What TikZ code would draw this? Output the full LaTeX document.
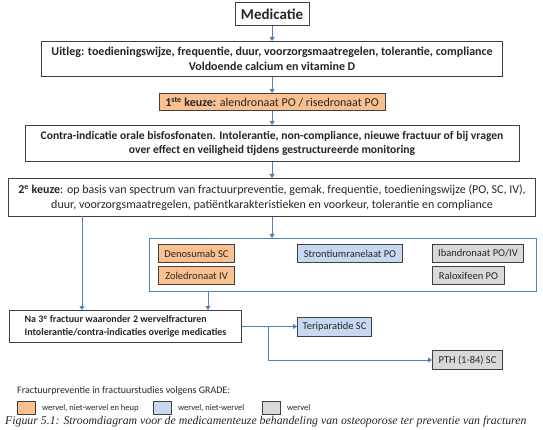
\documentclass[tikz,border=0pt]{standalone}
\usepackage{fontspec}
\setmainfont{Carlito}
\newfontfamily\capfont{Liberation Serif}
\usetikzlibrary{arrows.meta,calc}
\definecolor{arrblue}{HTML}{4F81BD}
\definecolor{boxline}{HTML}{404040}
\definecolor{orfill}{HTML}{FAC090}
\definecolor{blfill}{HTML}{C6D9F1}
\definecolor{grfill}{HTML}{D9D9D9}
\definecolor{txt}{HTML}{262626}
\tikzset{
  flowbox/.style={draw=boxline, line width=1.1pt, anchor=north west, inner sep=1pt, align=center, text=txt, font=\fontsize{12}{15}\selectfont\bfseries},
  drugbox/.style={draw=boxline, line width=1pt, anchor=north west, inner sep=1pt, align=center, text=txt, font=\fontsize{10.5}{12}\selectfont},
  arr/.style={draw=arrblue, line width=0.9pt, -{Triangle[length=4pt,width=5pt]}},
  legbox/.style={draw=boxline, line width=0.9pt, anchor=north west, minimum width=18pt, minimum height=13pt, inner sep=0pt},
  legtext/.style={anchor=west, inner sep=0pt, text=txt, font=\fontsize{8.5}{10}\selectfont},
}
\begin{document}
\begin{tikzpicture}[x=1pt,y=-1pt]
\useasboundingbox[fill=white] (0,0) rectangle (543,430);
% main chain
\node[flowbox, minimum width=74pt, minimum height=23pt, font=\fontsize{15}{17}\selectfont\bfseries] (med) at (234.5,2) {Medicatie};
\node[flowbox, minimum width=461pt, minimum height=35pt] (uit) at (41,41) {Uitleg: toedieningswijze, frequentie, duur, voorzorgsmaatregelen, tolerantie, compliance\\Voldoende calcium en vitamine D};
\node[flowbox, fill=orfill, minimum width=226pt, minimum height=17pt, font=\fontsize{12}{15}\selectfont] (k1) at (158.5,93) {\textbf{1\textsuperscript{ste} keuze:} alendronaat PO / risedronaat PO};
\node[flowbox, minimum width=494pt, minimum height=36pt, font=\fontsize{11.6}{14.5}\selectfont\bfseries] (ci) at (24.5,125) {Contra-indicatie orale bisfosfonaten. Intolerantie, non-compliance, nieuwe fractuur of bij vragen\\over effect en veiligheid tijdens gestructureerde monitoring};
\node[flowbox, minimum width=527pt, minimum height=38pt, font=\fontsize{12}{15}\selectfont] (k2) at (8,178) {\textbf{2\textsuperscript{e} keuze}: op basis van spectrum van fractuurpreventie, gemak, frequentie, toedieningswijze (PO, SC, IV),\\duur, voorzorgsmaatregelen, patiëntkarakteristieken en voorkeur, tolerantie en compliance};
% group
\node[draw=arrblue, line width=1.1pt, anchor=north west, minimum width=387pt, minimum height=53pt, inner sep=0pt] (grp) at (149,238) {};
\node[drugbox, fill=orfill, minimum width=76pt, minimum height=18pt] (deno) at (158,244) {Denosumab SC};
\node[drugbox, fill=orfill, minimum width=76pt, minimum height=18pt] (zole) at (158,266) {Zoledronaat IV};
\node[drugbox, fill=blfill, minimum width=105pt, minimum height=18pt] (stro) at (297,244) {Strontiumranelaat PO};
\node[drugbox, fill=grfill, minimum width=91pt, minimum height=18pt] (iban) at (432,244) {Ibandronaat PO/IV};
\node[drugbox, fill=grfill, minimum width=72pt, minimum height=18pt] (ralo) at (432,266) {Raloxifeen PO};
% third
\node[flowbox, align=left, minimum width=232pt, minimum height=32pt, font=\fontsize{10}{13}\selectfont\bfseries, inner xsep=4pt] (na3) at (9,310) {Na 3\textsuperscript{e} fractuur waaronder 2 wervelfracturen\\Intolerantie/contra-indicaties overige medicaties};
\node[drugbox, fill=blfill, minimum width=74pt, minimum height=19pt] (teri) at (297,316.5) {Teriparatide SC};
\node[drugbox, fill=grfill, minimum width=70pt, minimum height=19pt] (pth) at (432,350) {PTH (1-84) SC};
% connectors
\draw[arr] (med.south) -- (med.south |- uit.north);
\draw[arr] (uit.south -| med.south) -- (med.south |- k1.north);
\draw[arr] (k1.south -| med.south) -- (med.south |- ci.north);
\draw[arr] (ci.south -| med.south) -- (med.south |- k2.north);
\draw[arr] (k2.south -| med.south) -- (med.south |- grp.north);
\coordinate (lft) at (82,216);
\draw[arr] (lft) -- (lft |- na3.north);
\coordinate (gout) at (208,291);
\draw[arr] (gout) -- (gout |- na3.north);
\draw[arr] (na3.east) -- (teri.west);
\coordinate (br) at (268,326);
\draw[arr] (br) |- (pth.west);
% legend
\node[legtext, font=\fontsize{10}{11}\selectfont] (legt) at (17,391) {Fractuurpreventie in fractuurstudies volgens GRADE:};
\node[legbox, fill=orfill] (lo) at (17,401) {};
\node[legtext] (lot) at ($(lo.east)+(6,0)$) {wervel, niet-wervel en heup};
\node[legbox, fill=blfill] (lb) at (153,401) {};
\node[legtext] (lbt) at ($(lb.east)+(6,0)$) {wervel, niet-wervel};
\node[legbox, fill=grfill] (lg) at (262,401) {};
\node[legtext] (lgt) at ($(lg.east)+(6,0)$) {wervel};
% caption
\node[anchor=west, inner sep=0pt, text=txt, font=\capfont\itshape\fontsize{11.8}{13}\selectfont] (cap) at (5,422) {Figuur 5.1: Stroomdiagram voor de medicamenteuze behandeling van osteoporose ter preventie van fracturen};
\end{tikzpicture}
\end{document}
